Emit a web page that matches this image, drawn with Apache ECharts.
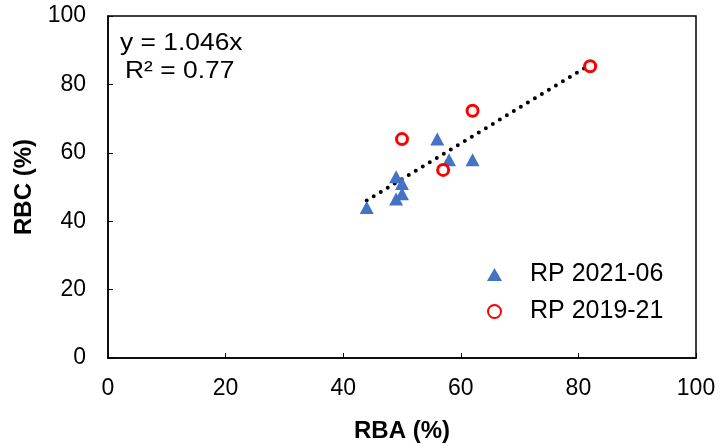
<!DOCTYPE html>
<html><head><meta charset="utf-8">
<script src="https://cdn.jsdelivr.net/npm/echarts@6/dist/echarts.min.js"></script>
<style>html,body{margin:0;padding:0;background:#fff}#c{width:720px;height:448px}</style>
</head><body><div id="c"></div>
<script>
const seriesNames = ['RP 2021-06', 'RP 2019-21'];
const rp2021 = [[44,44],[49,53],[50,51],[50,48],[49,46.5],[56,64],[58,58],[62,58]];
const rp2019 = [[50,64],[57,55],[62,72.3],[82,85.3]];
const slope = 1.046;
const trendX = [44, 82];
const xTicks = [0,20,40,60,80,100];
const yTicks = [0,20,40,60,80,100];
const eqText = ['y = 1.046x', 'R² = 0.77'];

const font = 'Liberation Sans, Arial, sans-serif';
const chart = echarts.init(document.getElementById('c'), null, {renderer:'canvas'});
chart.setOption({
  animation:false,
  grid:{left:108,top:16,width:588,height:342,show:true,borderColor:'#000',borderWidth:1.5,backgroundColor:'#fff'},
  xAxis:{type:'value',min:xTicks[0],max:xTicks[xTicks.length-1],interval:20,
    name:'RBA (%)',nameLocation:'middle',nameGap:61,
    nameTextStyle:{fontFamily:font,fontSize:24,fontWeight:'bold',color:'#000'},
    axisLine:{show:true,lineStyle:{color:'#000',width:1.5}},
    axisTick:{show:true,inside:true,length:5,lineStyle:{color:'#000'}},
    axisLabel:{fontFamily:font,fontSize:23,color:'#000',margin:19},
    splitLine:{show:false}},
  yAxis:{type:'value',min:yTicks[0],max:yTicks[yTicks.length-1],interval:20,
    name:'RBC (%)',nameLocation:'middle',nameGap:63,
    nameTextStyle:{fontFamily:font,fontSize:24,fontWeight:'bold',color:'#000'},
    axisLine:{show:true,lineStyle:{color:'#000',width:1.5}},
    axisTick:{show:true,inside:true,length:5,lineStyle:{color:'#000'}},
    axisLabel:{fontFamily:font,fontSize:23,color:'#000',margin:22},
    splitLine:{show:false}},
  legend:{orient:'vertical',left:487,top:262,padding:0,itemGap:12,itemWidth:15,itemHeight:13,
    textStyle:{fontFamily:font,fontSize:25,color:'#000',padding:[0,0,0,23]},
    data:[{name:seriesNames[0],icon:'triangle'},{name:seriesNames[1],icon:'circle'}]},
  graphic:[
    {type:'text',left:120,top:31,scaleX:1.1,style:{text:eqText[0],font:'24px '+font,fill:'#000'}},
    {type:'text',left:125,top:59,scaleX:1.1,style:{text:eqText[1],font:'24px '+font,fill:'#000'}}
  ],
  series:[
    {name:'trend',type:'line',data:trendX.map(x=>[x,slope*x]),symbol:'none',silent:true,
      lineStyle:{color:'#000',width:4,type:[0,8.2],cap:'round'},z:1},
    {name:seriesNames[0],type:'scatter',data:rp2021,symbol:'triangle',symbolSize:[14,13],
      itemStyle:{color:'#4472C4',opacity:1},z:2},
    {name:seriesNames[1],type:'scatter',data:rp2019,symbol:'circle',symbolSize:11,
      itemStyle:{color:'#fff',borderColor:'#FF0000',borderWidth:3,opacity:1},z:3}
  ]
});
</script></body></html>
